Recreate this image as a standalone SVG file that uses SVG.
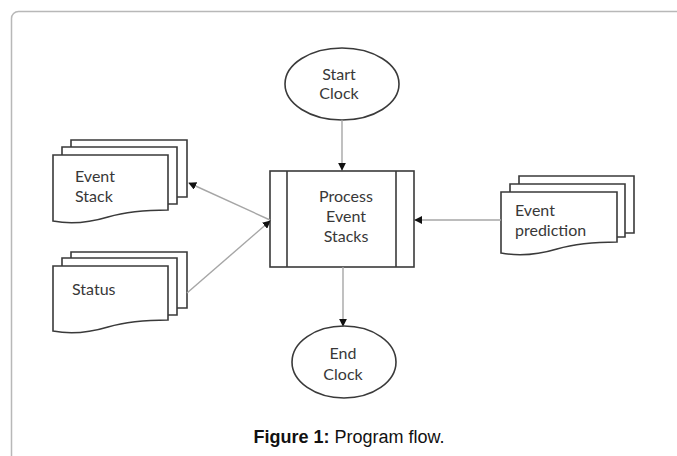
<svg xmlns="http://www.w3.org/2000/svg" width="677" height="456" viewBox="0 0 677 456">
<defs>
<style>
.frame{fill:none;stroke:#b8b8b8;stroke-width:1.5}
.shape{fill:#fff;stroke:#3a3a3a;stroke-width:1.6}
.lbl{font-family:Lato,"Open Sans",sans-serif;font-size:16px;fill:#383838}
.conn{stroke:#a6a6a6;stroke-width:1.4;fill:none}
.cap{font-family:"Liberation Sans",Arial,sans-serif;font-size:18px;fill:#111}
</style>
<marker id="ah" viewBox="0 0 10 10" refX="9" refY="5" markerWidth="8" markerHeight="8" markerUnits="userSpaceOnUse" orient="auto">
<path d="M0,0 L10,5 L0,10 Z" fill="#111"/>
</marker>
</defs>
<rect class="frame" x="11.5" y="11.5" width="720" height="520" rx="7"/>

<g id="start-clock">
<ellipse class="shape" cx="342" cy="84" rx="57" ry="36"/>
<text class="lbl" x="339" y="80" text-anchor="middle">Start</text>
<text class="lbl" x="339" y="99" text-anchor="middle">Clock</text>
</g>

<g id="process">
<rect class="shape" x="270" y="171" width="144" height="96"/>
<line class="shape" x1="287" y1="171" x2="287" y2="267"/>
<line class="shape" x1="396" y1="171" x2="396" y2="267"/>
<text class="lbl" x="346" y="202" text-anchor="middle">Process</text>
<text class="lbl" x="346" y="222" text-anchor="middle">Event</text>
<text class="lbl" x="346" y="242" text-anchor="middle">Stacks</text>
</g>

<g id="end-clock">
<ellipse class="shape" cx="344" cy="362" rx="52" ry="36"/>
<text class="lbl" x="343" y="359" text-anchor="middle">End</text>
<text class="lbl" x="343" y="380" text-anchor="middle">Clock</text>
</g>

<g id="event-stack">
<path class="shape" d="M71,147 V140 H187 V197 H177"/>
<path class="shape" d="M62,155 V147 H177 V204 H168"/>
<path class="shape" d="M53,155 H168 V210 C145,210 125,212 108,217 C88,223 68,224 53,221 Z"/>
<text class="lbl" x="75" y="182">Event</text>
<text class="lbl" x="75" y="202">Stack</text>
</g>

<g id="status">
<path class="shape" d="M71,258 V252 H187 V308 H177"/>
<path class="shape" d="M62,266 V258 H177 V315 H168"/>
<path class="shape" d="M53,266 H168 V320 C145,320 125,322 108,327 C88,333 68,334 53,331 Z"/>
<text class="lbl" x="72" y="295">Status</text>
</g>

<g id="event-prediction">
<path class="shape" d="M519,184 V176 H634 V233 H625"/>
<path class="shape" d="M510,192 V184 H625 V237 H617"/>
<path class="shape" d="M501,192 H617 V242 C594,242 574,244 557,249 C537,255 517,256 501,253 Z"/>
<text class="lbl" x="515" y="216">Event</text>
<text class="lbl" x="515" y="236">prediction</text>
</g>

<g id="connectors">
<line class="conn" x1="342" y1="120" x2="342" y2="170" marker-end="url(#ah)"/>
<line class="conn" x1="343" y1="267" x2="343" y2="326" marker-end="url(#ah)"/>
<line class="conn" x1="270" y1="220" x2="189" y2="183" marker-end="url(#ah)"/>
<line class="conn" x1="187" y1="293" x2="270" y2="221" marker-end="url(#ah)"/>
<line class="conn" x1="501" y1="220" x2="415" y2="220" marker-end="url(#ah)"/>
</g>

<text class="cap" x="349" y="443" text-anchor="middle"><tspan font-weight="bold">Figure 1:</tspan> Program flow.</text>
</svg>
